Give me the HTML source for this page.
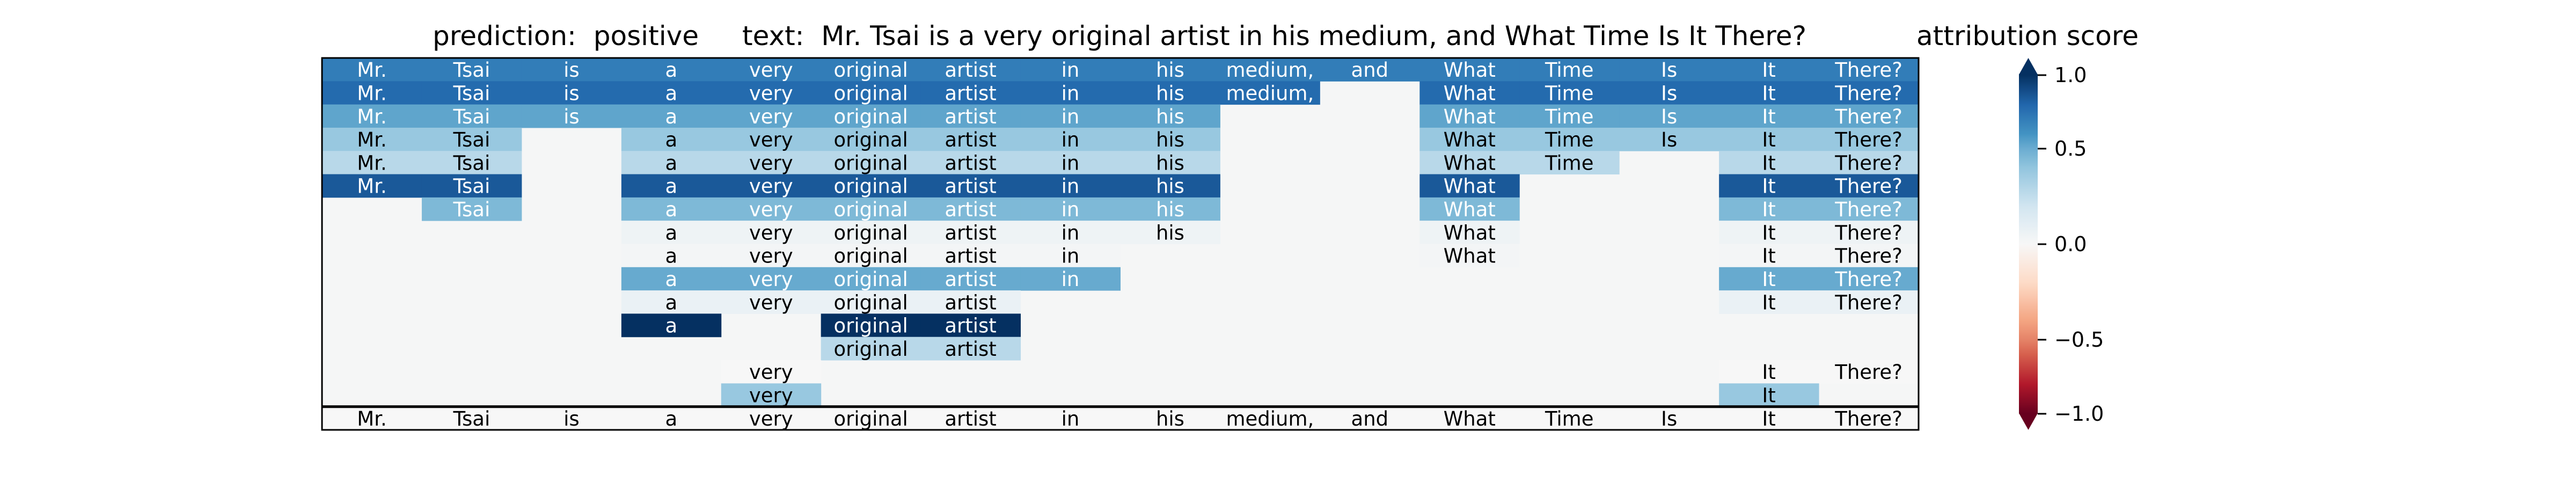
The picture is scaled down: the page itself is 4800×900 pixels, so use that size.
<!DOCTYPE html>
<html><head><meta charset="utf-8"><style>
html,body{margin:0;padding:0;background:#fff}
svg{display:block}
text{font-family:"DejaVu Sans","Liberation Sans",sans-serif;white-space:pre}
</style></head><body>
<svg id="chart" xmlns="http://www.w3.org/2000/svg" width="4800" height="900" viewBox="0 0 4800 900">
<rect width="4800" height="900" fill="#fff"/>
<text x="806" y="84" font-size="50" textLength="496" lengthAdjust="spacingAndGlyphs">prediction:  positive</text>
<text x="1383" y="84" font-size="50" textLength="1983" lengthAdjust="spacingAndGlyphs">text:  Mr. Tsai is a very original artist in his medium, and What Time Is It There?</text>
<text x="3571" y="84" font-size="50" textLength="414" lengthAdjust="spacingAndGlyphs">attribution score</text>
<g id="cells"></g>
<g id="cbar"></g>
</svg>
<script>
const tokens = ["Mr.","Tsai","is","a","very","original","artist","in","his","medium,","and","What","Time","Is","It","There?"];
const rowValues = [0.70,0.78,0.53,0.38,0.28,0.85,0.45,0.05,0.02,0.51,0.07,1.0,0.28,0.0,0.38,0.0];
const rowTokens = [
 [0,1,2,3,4,5,6,7,8,9,10,11,12,13,14,15],
 [0,1,2,3,4,5,6,7,8,9,11,12,13,14,15],
 [0,1,2,3,4,5,6,7,8,11,12,13,14,15],
 [0,1,3,4,5,6,7,8,11,12,13,14,15],
 [0,1,3,4,5,6,7,8,11,12,14,15],
 [0,1,3,4,5,6,7,8,11,14,15],
 [1,3,4,5,6,7,8,11,14,15],
 [3,4,5,6,7,8,11,14,15],
 [3,4,5,6,7,11,14,15],
 [3,4,5,6,7,14,15],
 [3,4,5,6,14,15],
 [3,5,6],
 [5,6],
 [4,14,15],
 [4,14],
 [0,1,2,3,4,5,6,7,8,9,10,11,12,13,14,15]
];
const cbTicks = [1.0,0.5,0.0,-0.5,-1.0];
const cbTickLabels = ["1.0","0.5","0.0","\u22120.5","\u22121.0"];

const NS="http://www.w3.org/2000/svg";
const X0=600,X1=3575,Y0=108,Y1=801;
const nCols=tokens.length,nRows=rowTokens.length;
const cw=(X1-X0)/nCols,rh=(Y1-Y0)/nRows;
const xCol=i=>X0+i*cw, yRow=r=>Y0+r*rh;
const cmStops=[[-1,"#67001f"],[-0.8,"#b2182b"],[-0.6,"#d6604d"],[-0.4,"#f4a582"],[-0.2,"#fddbc7"],[0,"#f7f7f7"],[0.2,"#d1e5f0"],[0.4,"#92c5de"],[0.6,"#4393c3"],[0.8,"#2166ac"],[1,"#053061"]];
function hex(h){return [1,3,5].map(i=>parseInt(h.substr(i,2),16));}
function cmap(v){v=Math.max(-1,Math.min(1,v));
 for(let i=0;i<cmStops.length-1;i++){const a=cmStops[i],b=cmStops[i+1];
  if(v<=b[0]){const t=(v-a[0])/(b[0]-a[0]);const c1=hex(a[1]),c2=hex(b[1]);
   return "rgb("+c1.map((c,k)=>Math.round(c+(c2[k]-c)*t)).join(",")+")";}}
 return cmStops[cmStops.length-1][1];}
function mk(tag,attrs,parent){const e=document.createElementNS(NS,tag);for(const k in attrs)e.setAttribute(k,attrs[k]);parent.appendChild(e);return e;}

const g=document.getElementById("cells");
const bgr=mk("rect",{x:X0,y:Y0,width:X1-X0,height:Y1-Y0,fill:"#f5f6f6"},g);


rowTokens.forEach((toks,r)=>{
 const v=rowValues[r];
 toks.forEach(c=>{
  const rc=mk("rect",{x:xCol(c),y:yRow(r),width:cw+0.5,height:rh+0.5,fill:cmap(v)},g);
  
  
  const t=mk("text",{x:xCol(c)+cw/2,y:yRow(r)+rh/2+1,"font-size":37,"text-anchor":"middle","dominant-baseline":"central",fill:v>0.42?"#fff":"#000"},g);
  t.textContent=tokens[c];
  
  
 });
});
const sep=mk("line",{x1:X0,x2:X1,y1:yRow(nRows-1),y2:yRow(nRows-1),stroke:"#000","stroke-width":5},g);


const fr=mk("rect",{x:X0,y:Y0,width:X1-X0,height:Y1-Y0,fill:"none",stroke:"#000","stroke-width":3},g);



const cb=document.getElementById("cbar");
const CX0=3762,CX1=3797;
const tickY=[140,277,455,633,771];
function vToY(v){for(let i=0;i<cbTicks.length-1;i++){const a=cbTicks[i],b=cbTicks[i+1];if(v<=a&&v>=b){return tickY[i]+(a-v)/(a-b)*(tickY[i+1]-tickY[i]);}}return v>0?tickY[0]:tickY[tickY.length-1];}
const defs=mk("defs",{},cb);
const lg=mk("linearGradient",{id:"cbgrad",x1:0,y1:0,x2:0,y2:1},defs);
const cbTop=138,cbBot=771;
for(let k=0;k<=40;k++){const v=1-k/20;const y=vToY(v);mk("stop",{offset:Math.max(0,Math.min(1,(y-cbTop)/(cbBot-cbTop))).toFixed(4),"stop-color":cmap(v)},lg);}
const bar=mk("rect",{x:CX0,y:cbTop,width:CX1-CX0,height:cbBot-cbTop,fill:"url(#cbgrad)"},cb);


const tt=mk("polygon",{points:`${CX0},${cbTop+1} ${(CX0+CX1)/2},108 ${CX1},${cbTop+1}`,fill:cmap(1)},cb);


const tb=mk("polygon",{points:`${CX0},${cbBot-1} ${(CX0+CX1)/2},801 ${CX1},${cbBot-1}`,fill:cmap(-1)},cb);


cbTicks.forEach((v,i)=>{
 const y=vToY(v);
 const tl=mk("line",{x1:CX1,x2:CX1+16,y1:y,y2:y,stroke:"#000","stroke-width":3},cb);
 
 
 const lab=mk("text",{x:3828,y:y,"font-size":38,"dominant-baseline":"central"},cb);
 lab.textContent=cbTickLabels[i];
 
 
});
</script>
</body></html>
